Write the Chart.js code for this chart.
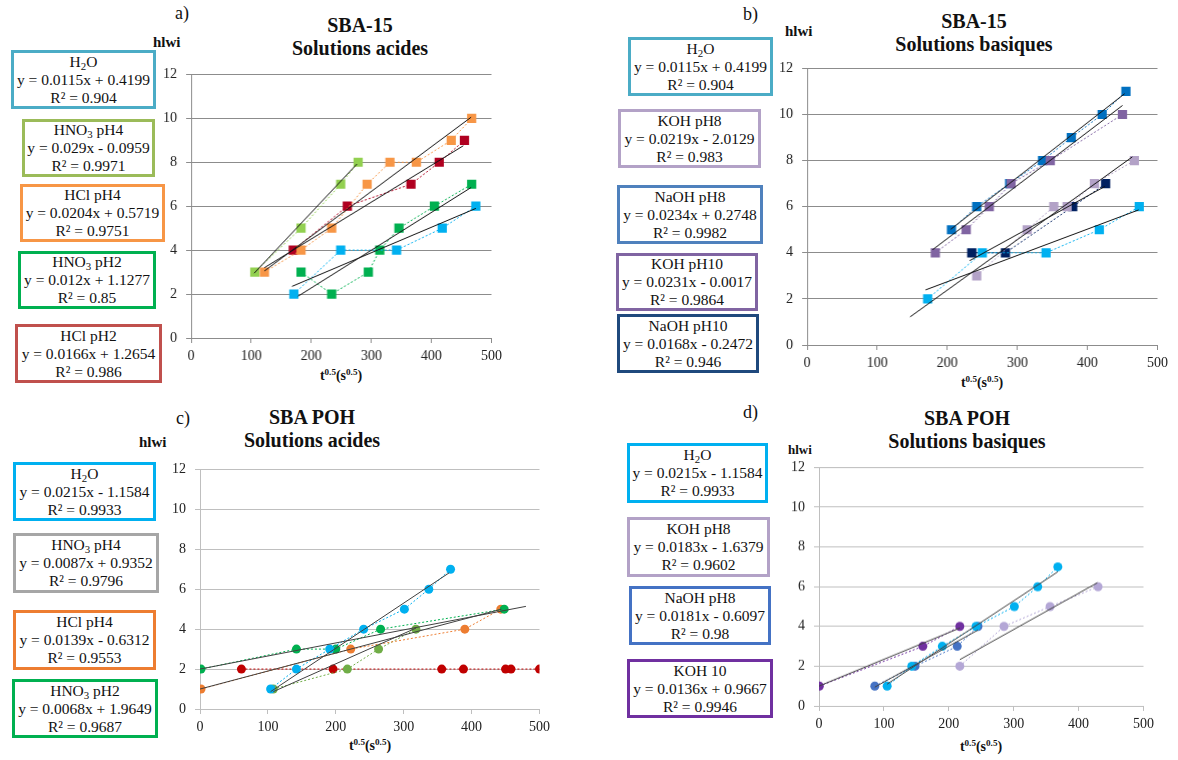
<!DOCTYPE html>
<html lang="fr">
<head>
<meta charset="utf-8">
<title>SBA-15 / SBA POH - hlwi</title>
<script src="https://cdn.jsdelivr.net/npm/chart.js@4.4.1/dist/chart.umd.min.js"></script>
<style>
  body { margin: 0; background: #fff; }
  #page { position: relative; width: 1178px; height: 760px; overflow: hidden; font-family: "Liberation Serif", "Times New Roman", serif; color: #111; }
  .box { position: absolute; box-sizing: border-box; border: 3px solid; display: flex; flex-direction: column; justify-content: center; align-items: center; font-size: 15.5px; line-height: 18px; white-space: nowrap; }
  .box sub { font-size: 0.7em; vertical-align: -0.25em; line-height: 0; }
  .lab { position: absolute; font-size: 18px; line-height: 20px; }
  .titre { position: absolute; width: 320px; text-align: center; font-weight: bold; font-size: 20px; line-height: 23px; }
  .hlwi { position: absolute; font-weight: bold; font-size: 15px; line-height: 17px; }
  .axe { position: absolute; width: 200px; text-align: center; font-weight: bold; font-size: 14px; line-height: 16px; }
  .axe span { font-size: 0.65em; position: relative; top: -0.5em; }
  canvas { position: absolute; }
</style>
</head>
<body>
<div id="page">

  <!-- a) -->
  <div class="lab" style="left:175px; top:3px">a)</div>
  <div class="titre" style="left:200px; top:14px">SBA-15<br>Solutions acides</div>
  <div class="hlwi" style="left:153px; top:34px">hlwi</div>
  <div class="axe" style="left:241px; top:368px">t<span>0.5</span>(s<span>0.5</span>)</div>
  <div class="box" style="left:11px; top:50px; width:145px; height:59px; border-color:#4BACC6"><div>H<sub>2</sub>O</div><div>y = 0.0115x + 0.4199</div><div>R² = 0.904</div></div>
  <div class="box" style="left:22px; top:119px; width:133px; height:58px; border-color:#9BBB59"><div>HNO<sub>3</sub> pH4</div><div>y = 0.029x - 0.0959</div><div>R² = 0.9971</div></div>
  <div class="box" style="left:20px; top:184px; width:145px; height:58px; border-color:#F79646"><div>HCl pH4</div><div>y = 0.0204x + 0.5719</div><div>R² = 0.9751</div></div>
  <div class="box" style="left:18px; top:251px; width:138px; height:58px; border-color:#00B050"><div>HNO<sub>3</sub> pH2</div><div>y = 0.012x + 1.1277</div><div>R² = 0.85</div></div>
  <div class="box" style="left:15px; top:324px; width:147px; height:59px; border-color:#C0504D"><div>HCl pH2</div><div>y = 0.0166x + 1.2654</div><div>R² = 0.986</div></div>

  <!-- b) -->
  <div class="lab" style="left:743px; top:4px">b)</div>
  <div class="titre" style="left:814px; top:10px">SBA-15<br>Solutions basiques</div>
  <div class="hlwi" style="left:785px; top:23px">hlwi</div>
  <div class="axe" style="left:882px; top:375px">t<span>0.5</span>(s<span>0.5</span>)</div>
  <div class="box" style="left:628px; top:37px; width:145px; height:59px; border-color:#4BACC6"><div>H<sub>2</sub>O</div><div>y = 0.0115x + 0.4199</div><div>R² = 0.904</div></div>
  <div class="box" style="left:618px; top:109px; width:143px; height:59px; border-color:#B3A2C7"><div>KOH pH8</div><div>y = 0.0219x - 2.0129</div><div>R² = 0.983</div></div>
  <div class="box" style="left:617px; top:185px; width:146px; height:59px; border-color:#4F81BD"><div>NaOH pH8</div><div>y = 0.0234x + 0.2748</div><div>R² = 0.9982</div></div>
  <div class="box" style="left:616px; top:253px; width:142px; height:58px; border-color:#8064A2"><div>KOH pH10</div><div>y = 0.0231x - 0.0017</div><div>R² = 0.9864</div></div>
  <div class="box" style="left:617px; top:314px; width:142px; height:59px; border-color:#1F497D"><div>NaOH pH10</div><div>y = 0.0168x - 0.2472</div><div>R² = 0.946</div></div>

  <!-- c) -->
  <div class="lab" style="left:176px; top:408px">c)</div>
  <div class="titre" style="left:152px; top:406px">SBA POH<br>Solutions acides</div>
  <div class="hlwi" style="left:139px; top:434px">hlwi</div>
  <div class="axe" style="left:270px; top:738px">t<span>0.5</span>(s<span>0.5</span>)</div>
  <div class="box" style="left:13px; top:462px; width:143px; height:59px; border-color:#00B0F0"><div>H<sub>2</sub>O</div><div>y = 0.0215x - 1.1584</div><div>R² = 0.9933</div></div>
  <div class="box" style="left:13px; top:533px; width:146px; height:60px; border-color:#A6A6A6"><div>HNO<sub>3</sub> pH4</div><div>y = 0.0087x + 0.9352</div><div>R² = 0.9796</div></div>
  <div class="box" style="left:13px; top:610px; width:143px; height:60px; border-color:#ED7D31"><div>HCl pH4</div><div>y = 0.0139x - 0.6312</div><div>R² = 0.9553</div></div>
  <div class="box" style="left:12px; top:679px; width:146px; height:59px; border-color:#00B050"><div>HNO<sub>3</sub> pH2</div><div>y = 0.0068x + 1.9649</div><div>R² = 0.9687</div></div>

  <!-- d) -->
  <div class="lab" style="left:743px; top:402px">d)</div>
  <div class="titre" style="left:807px; top:407px">SBA POH<br>Solutions basiques</div>
  <div class="hlwi" style="left:788px; top:441px; font-size:13px">hlwi</div>
  <div class="axe" style="left:881px; top:739px">t<span>0.5</span>(s<span>0.5</span>)</div>
  <div class="box" style="left:627px; top:443px; width:141px; height:60px; border-color:#00B0F0"><div>H<sub>2</sub>O</div><div>y = 0.0215x - 1.1584</div><div>R² = 0.9933</div></div>
  <div class="box" style="left:627px; top:517px; width:143px; height:60px; border-color:#B3A2C7"><div>KOH pH8</div><div>y = 0.0183x - 1.6379</div><div>R² = 0.9602</div></div>
  <div class="box" style="left:629px; top:586px; width:142px; height:59px; border-color:#4472C4"><div>NaOH pH8</div><div>y = 0.0181x - 0.6097</div><div>R² = 0.98</div></div>
  <div class="box" style="left:627px; top:659px; width:146px; height:59px; border-color:#7030A0"><div>KOH 10</div><div>y = 0.0136x + 0.9667</div><div>R² = 0.9946</div></div>

</div>

<script>
//******************************************************** Données ********************************************************

const X_TICKS = [0, 100, 200, 300, 400, 500]
const Y_TICKS = [0, 2, 4, 6, 8, 10, 12]

// a) SBA-15, solutions acides
const aH2O_x = [171, 249, 342, 418, 474]
const aH2O_y = [2, 4, 4, 5, 6]
const aH2O_tx = [168, 474]
const aH2O_ty = [2.35, 5.9]

const aHNO3pH4_x = [106, 183, 249, 278]
const aHNO3pH4_y = [3, 5, 7, 8]
const aHNO3pH4_tx = [105, 276]
const aHNO3pH4_ty = [2.95, 7.92]

const aHClpH4_x = [122, 183, 234, 293, 331, 375, 433, 467]
const aHClpH4_y = [3, 4, 5, 7, 8, 8, 9, 10]
const aHClpH4_tx = [122, 466]
const aHClpH4_ty = [3.05, 10.05]

const aHNO3pH2_x = [183, 234, 295, 314, 346, 405, 467]
const aHNO3pH2_y = [3, 2, 3, 4, 5, 6, 7]
const aHNO3pH2_tx = [178, 466]
const aHNO3pH2_ty = [1.9, 6.85]

const aHClpH2_x = [170, 260, 366, 413, 455]
const aHClpH2_y = [4, 6, 7, 8, 9]
const aHClpH2_tx = [122, 453]
const aHClpH2_ty = [3.2, 8.75]

// b) SBA-15, solutions basiques
const bH2O_x = [172, 250, 341, 417, 474]
const bH2O_y = [2, 4, 4, 5, 6]
const bH2O_tx = [169, 473]
const bH2O_ty = [2.39, 5.86]

const bKOHpH8_x = [242, 314, 352, 371, 410, 467]
const bKOHpH8_y = [3, 5, 6, 6, 7, 8]
const bKOHpH8_tx = [147, 464]
const bKOHpH8_ty = [1.22, 8.16]

const bNaOHpH8_x = [206, 242, 289, 336, 377, 421, 455]
const bNaOHpH8_y = [5, 6, 7, 8, 9, 10, 11]
const bNaOHpH8_tx = [205, 453]
const bNaOHpH8_ty = [5.02, 10.9]

const bKOHpH10_x = [183, 227, 260, 291, 347, 450]
const bKOHpH10_y = [4, 5, 6, 7, 8, 10]
const bKOHpH10_tx = [179, 450]
const bKOHpH10_ty = [4.13, 10.39]

const bNaOHpH10_x = [235, 283, 379, 426]
const bNaOHpH10_y = [4, 4, 6, 7]
const bNaOHpH10_tx = [232, 425]
const bNaOHpH10_ty = [3.66, 6.88]

// c) SBA POH, solutions acides
const cH2O_x = [104, 142, 191, 241, 301, 337, 369]
const cH2O_y = [1, 2, 3, 4, 5, 6, 7]
const cH2O_tx = [104, 367]
const cH2O_ty = [0.87, 6.82]

const cOrange_x = [1.5, 222, 390, 443]
const cOrange_y = [1, 3, 4, 5]
const cOrange_tx = [0, 444]
const cOrange_ty = [1, 5]

const cVertClair_x = [108, 217, 263, 318]
const cVertClair_y = [1, 2, 3, 4]
const cVertClair_tx = [108, 318]
const cVertClair_ty = [0.87, 4.05]

const cVert_x = [1.5, 142, 200, 266, 448]
const cVert_y = [2, 3, 3, 4, 5]
const cVert_tx = [0, 480]
const cVert_ty = [2, 5.14]

const cRouge_x = [61, 196, 356, 388, 450, 458, 500]
const cRouge_y = [2, 2, 2, 2, 2, 2, 2]

// d) SBA POH, solutions basiques
const dH2O_x = [105, 143, 190, 242, 301, 337, 368]
const dH2O_y = [1, 2, 3, 4, 5, 6, 7]
const dH2O_tx = [105, 368]
const dH2O_ty = [1.1, 6.75]

const dKOHpH8_x = [217, 285, 356, 430]
const dKOHpH8_y = [2, 4, 5, 6]
const dKOHpH8_tx = [217, 429]
const dKOHpH8_ty = [2.33, 6.2]

const dNaOHpH8_x = [86, 148, 213, 245]
const dNaOHpH8_y = [1, 2, 3, 4]
const dNaOHpH8_tx = [86, 245]
const dNaOHpH8_ty = [0.95, 3.82]

const dKOH10_x = [0.5, 160, 217]
const dKOH10_y = [1, 3, 4]
const dKOH10_tx = [0, 217]
const dKOH10_ty = [1, 3.92]


//******************************************************** Mise en forme ********************************************************

Chart.defaults.font.family = '"Liberation Serif", "Times New Roman", serif'
Chart.defaults.font.size = 14
Chart.defaults.color = '#222'

const ML = 40 // largeur réservée à l'axe y
const MT = 15
const MR = 15
const MB = 30 // hauteur réservée à l'axe x

// on transforme deux tableaux x / y en liste de points pour chart.js
function toPoints(xs, ys) {
  return xs.map((x, i) => ({ x: x, y: ys[i] }))
}

function makeDatasets(series, marker, radius, trendColor) {
  const datasets = []
  // les droites de tendance d'abord -> dessinées au dessus
  for (let s of series) {
    if (!s.tx) continue
    datasets.push({
      data: toPoints(s.tx, s.ty),
      showLine: true,
      borderColor: trendColor,
      borderWidth: 1,
      pointRadius: 0,
      order: 0
    })
  }
  for (let s of series) {
    datasets.push({
      data: toPoints(s.x, s.y),
      showLine: true,
      borderColor: s.color,
      borderWidth: 1,
      borderDash: [2, 2],
      pointStyle: marker,
      pointRadius: radius,
      pointBackgroundColor: s.color,
      pointBorderColor: s.color,
      pointBorderWidth: 0,
      order: 1
    })
  }
  return datasets
}

function buildPanel(area, series, marker, radius, gridColor, trendColor) {
  const canvas = document.createElement('canvas')
  const w = area.right - area.left + ML + MR
  const h = area.bottom - area.top + MT + MB
  canvas.width = w
  canvas.height = h
  canvas.style.left = (area.left - ML) + 'px'
  canvas.style.top = (area.top - MT) + 'px'
  canvas.style.width = w + 'px'
  canvas.style.height = h + 'px'
  document.getElementById('page').appendChild(canvas)

  new Chart(canvas, {
    type: 'scatter',
    data: { datasets: makeDatasets(series, marker, radius, trendColor) },
    options: {
      responsive: false,
      animation: false,
      devicePixelRatio: 1,
      layout: { padding: { top: MT, right: MR, left: 0, bottom: 0 } },
      plugins: { legend: { display: false }, tooltip: { enabled: false } },
      scales: {
        x: {
          type: 'linear',
          min: X_TICKS[0],
          max: X_TICKS[X_TICKS.length - 1],
          afterBuildTicks: s => { s.ticks = X_TICKS.map(v => ({ value: v })) },
          afterFit: s => { s.height = MB },
          grid: { drawOnChartArea: false, tickLength: 5, color: gridColor },
          border: { color: gridColor },
          ticks: { padding: 5 }
        },
        y: {
          type: 'linear',
          min: Y_TICKS[0],
          max: Y_TICKS[Y_TICKS.length - 1],
          afterBuildTicks: s => { s.ticks = Y_TICKS.map(v => ({ value: v })) },
          afterFit: s => { s.width = ML },
          grid: { tickLength: 5, color: gridColor },
          border: { color: gridColor },
          ticks: { padding: 9 }
        }
      }
    }
  })
}

document.addEventListener('DOMContentLoaded', function () {
  buildPanel({ left: 191, top: 71.7, right: 491.7, bottom: 338.3 }, [
    { x: aH2O_x, y: aH2O_y, tx: aH2O_tx, ty: aH2O_ty, color: '#00B0F0' },
    { x: aHNO3pH4_x, y: aHNO3pH4_y, tx: aHNO3pH4_tx, ty: aHNO3pH4_ty, color: '#92D050' },
    { x: aHClpH4_x, y: aHClpH4_y, tx: aHClpH4_tx, ty: aHClpH4_ty, color: '#F79646' },
    { x: aHNO3pH2_x, y: aHNO3pH2_y, tx: aHNO3pH2_tx, ty: aHNO3pH2_ty, color: '#00B050' },
    { x: aHClpH2_x, y: aHClpH2_y, tx: aHClpH2_tx, ty: aHClpH2_ty, color: '#B00020' }
  ], 'rect', 6.5, '#8c8c8c', '#111')

  buildPanel({ left: 807.3, top: 66, right: 1157.7, bottom: 345 }, [
    { x: bH2O_x, y: bH2O_y, tx: bH2O_tx, ty: bH2O_ty, color: '#00B0F0' },
    { x: bKOHpH8_x, y: bKOHpH8_y, tx: bKOHpH8_tx, ty: bKOHpH8_ty, color: '#B3A2C7' },
    { x: bKOHpH10_x, y: bKOHpH10_y, tx: bKOHpH10_tx, ty: bKOHpH10_ty, color: '#8064A2' },
    { x: bNaOHpH10_x, y: bNaOHpH10_y, tx: bNaOHpH10_tx, ty: bNaOHpH10_ty, color: '#002060' },
    { x: bNaOHpH8_x, y: bNaOHpH8_y, tx: bNaOHpH8_tx, ty: bNaOHpH8_ty, color: '#0070C0' }
  ], 'rect', 6.5, '#8c8c8c', '#111')

  buildPanel({ left: 200, top: 466.7, right: 540, bottom: 709.3 }, [
    { x: cH2O_x, y: cH2O_y, tx: cH2O_tx, ty: cH2O_ty, color: '#00B0F0' },
    { x: cVert_x, y: cVert_y, tx: cVert_tx, ty: cVert_ty, color: '#00B050' },
    { x: cOrange_x, y: cOrange_y, tx: cOrange_tx, ty: cOrange_ty, color: '#ED7D31' },
    { x: cVertClair_x, y: cVertClair_y, tx: cVertClair_tx, ty: cVertClair_ty, color: '#70AD47' },
    { x: cRouge_x, y: cRouge_y, color: '#C00000' }
  ], 'circle', 4.5, '#bfbfbf', '#404040')

  buildPanel({ left: 819, top: 465.3, right: 1144, bottom: 706 }, [
    { x: dH2O_x, y: dH2O_y, tx: dH2O_tx, ty: dH2O_ty, color: '#00B0F0' },
    { x: dNaOHpH8_x, y: dNaOHpH8_y, tx: dNaOHpH8_tx, ty: dNaOHpH8_ty, color: '#4472C4' },
    { x: dKOHpH8_x, y: dKOHpH8_y, tx: dKOHpH8_tx, ty: dKOHpH8_ty, color: '#B4A7D6' },
    { x: dKOH10_x, y: dKOH10_y, tx: dKOH10_tx, ty: dKOH10_ty, color: '#7030A0' }
  ], 'circle', 4.5, '#bfbfbf', '#404040')
})
</script>
</body>
</html>
